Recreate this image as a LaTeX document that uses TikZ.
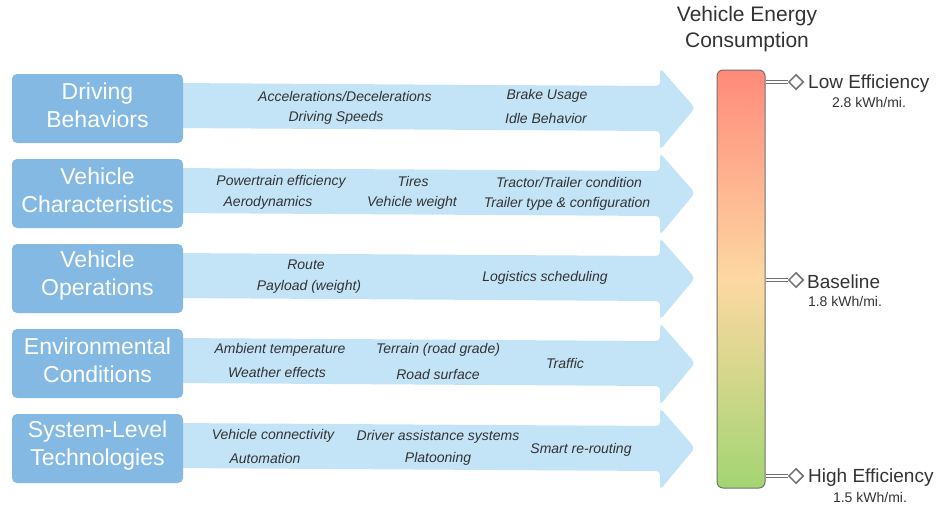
\documentclass[tikz,border=0pt]{standalone}
\usepackage{fontspec}
\setmainfont{Liberation Sans}
\usetikzlibrary{shapes.geometric}
\definecolor{boxblue}{HTML}{84B9E3}
\definecolor{arrowblue}{HTML}{C3E3F6}
\definecolor{txt}{HTML}{333333}
\definecolor{edgegray}{HTML}{707070}
\definecolor{topred}{HTML}{FF8A7A}
\definecolor{midpeach}{HTML}{FDD8A2}
\definecolor{botgreen}{HTML}{A3D572}
\begin{document}
\begin{tikzpicture}[x=1pt,y=-1pt,
  catbox/.style={fill=boxblue, rounded corners=5pt, minimum width=171pt, minimum height=69pt, inner sep=0pt},
  cattext/.style={text=white, font=\fontsize{23}{28}\selectfont, align=center, inner sep=0pt},
  item/.style={font=\fontsize{14}{16}\selectfont\itshape, text=txt, inner sep=0pt},
  band/.style={fill=arrowblue, rounded corners=4pt},
  levelmark/.style={diamond, draw=edgegray, fill=white, line width=1.5pt, minimum width=15pt,
    minimum height=15pt, inner sep=0pt},
  levellink/.style={draw=edgegray, line width=1.3pt, double=white, double distance=2.2pt},
  levellabel/.style={font=\fontsize{19}{22}\selectfont, text=txt, inner sep=0pt, anchor=west},
  levelvalue/.style={font=\fontsize{14}{16}\selectfont, text=txt, inner sep=0pt}
]
\useasboundingbox (0,0) rectangle (936,507);

% arrows
\foreach \k in {0,...,4}{
  \begin{scope}[shift={(0,\k*85)}]
    \fill[band] (170,83) -- (660,86) -- (660,68) -- (695,108) -- (660,150) -- (660,131) -- (170,128) -- cycle;
  \end{scope}
}

% category boxes
\node[catbox] (b1) at (97.5,108.5) {};
\node[catbox] (b2) at (97.5,193.5) {};
\node[catbox] (b3) at (97.5,278.5) {};
\node[catbox] (b4) at (97.5,363.5) {};
\node[catbox] (b5) at (97.5,448.5) {};
\node[cattext] (b1t) at ([yshift=3pt]b1.center) {Driving\\Behaviors};
\node[cattext] (b2t) at ([yshift=3pt]b2.center) {Vehicle\\Characteristics};
\node[cattext] (b3t) at ([yshift=3pt]b3.center) {Vehicle\\Operations};
\node[cattext] (b4t) at ([yshift=3pt]b4.center) {Environmental\\Conditions};
\node[cattext] (b5t) at ([yshift=3pt]b5.center) {System-Level\\Technologies};

% row 1
\node[item] (t11) at (345,96) {Accelerations/Decelerations};
\node[item] (t12) at (336,118) {Driving Speeds};
\node[item] (t13) at (547,96) {Brake Usage};
\node[item] (t14) at (546,118) {Idle Behavior};
% row 2
\node[item] (t21) at (281,182) {Powertrain efficiency};
\node[item] (t22) at (268,203) {Aerodynamics};
\node[item] (t23) at (413,181) {Tires};
\node[item] (t24) at (412,203) {Vehicle weight};
\node[item] (t25) at (569,182) {Tractor/Trailer condition};
\node[item] (t26) at (567,204) {Trailer type \& configuration};
% row 3
\node[item] (t31) at (306,265) {Route};
\node[item] (t32) at (309,287) {Payload (weight)};
\node[item] (t33) at (545,278) {Logistics scheduling};
% row 4
\node[item] (t41) at (280,350) {Ambient temperature};
\node[item] (t42) at (277,372) {Weather effects};
\node[item] (t43) at (438,350) {Terrain (road grade)};
\node[item] (t44) at (438,374) {Road surface};
\node[item] (t45) at (565,363) {Traffic};
% row 5
\node[item] (t51) at (273,436) {Vehicle connectivity};
\node[item] (t52) at (265,458) {Automation};
\node[item] (t53) at (438,437) {Driver assistance systems};
\node[item] (t54) at (438,459) {Platooning};
\node[item] (t55) at (581,450) {Smart re-routing};

% title
\node[font=\fontsize{21}{26}\selectfont, text=txt, align=center, inner sep=0pt] (title) at (747,29.5) {Vehicle Energy\\Consumption};

% bar
\node[shade, top color=topred, bottom color=botgreen, middle color=midpeach, draw=edgegray,
  line width=1pt, rounded corners=6pt, minimum width=48pt, minimum height=418pt, inner sep=0pt]
  (bar) at (741,279) {};

% levels
\node[levelmark] (d1) at (796,82) {};
\node[levelmark] (d2) at (796,280) {};
\node[levelmark] (d3) at (796,476) {};
\coordinate (c1) at (bar.east |- d1);
\coordinate (c2) at (bar.east |- d2);
\coordinate (c3) at (bar.east |- d3);
\draw[levellink] (c1) -- (d1.west);
\draw[levellink] (c2) -- (d2.west);
\draw[levellink] (c3) -- (d3.west);

\node[levellabel] (l1) at (808,84) {Low Efficiency};
\node[levellabel] (l2) at (807,281.5) {Baseline};
\node[levellabel] (l3) at (808,478) {High Efficiency};
\node[levelvalue] (v1) at (869,102) {2.8 kWh/mi.};
\node[levelvalue] (v2) at (845,301) {1.8 kWh/mi.};
\node[levelvalue] (v3) at (870,497) {1.5 kWh/mi.};
\end{tikzpicture}
\end{document}
